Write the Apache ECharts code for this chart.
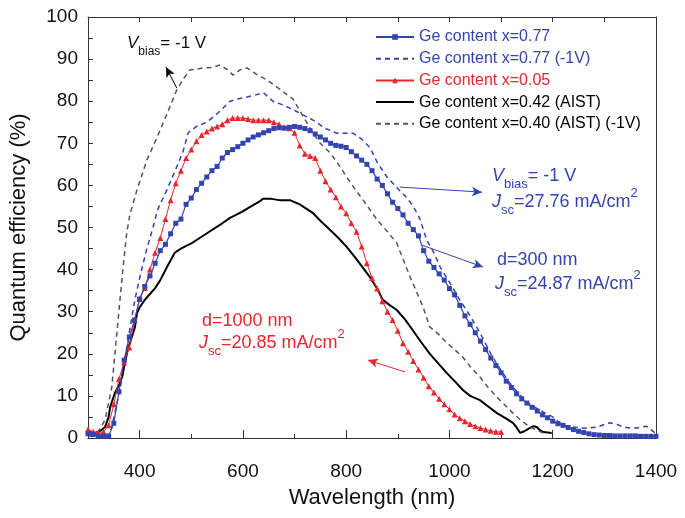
<!DOCTYPE html>
<html><head><meta charset="utf-8">
<script src="https://cdn.jsdelivr.net/npm/echarts@6/dist/echarts.min.js"></script>
<style>html,body{margin:0;padding:0;background:#fff}#c{width:685px;height:518px}</style>
</head><body><div id="c"></div><script>
// Wavelength grid (nm) for the marker series
const wl = [300,310,320,330,340,350,360,370,380,390,400,410,420,430,440,450,460,470,480,490,
500,510,520,530,540,550,560,570,580,590,600,610,620,630,640,650,660,670,680,690,
700,710,720,730,740,750,760,770,780,790,800,810,820,830,840,850,860,870,880,890,
900,910,920,930,940,950,960,970,980,990,1000,1010,1020,1030,1040,1050,1060,1070,1080,1090,
1100,1110,1120,1130,1140,1150,1160,1170,1180,1190,1200,1210,1220,1230,1240,1250,1260,1270,1280,1290,
1300,1310,1320,1330,1340,1350,1360,1370,1380,1390,1400];
// Ge content x=0.77 (squares)
const ge077 = [1.0,0.8,0.5,0.5,0.5,3.5,11,18.5,24,28,
33,36,38.5,41.5,44.5,46,48.5,51,52,55.5,
57,59,60.5,62,63.5,64.5,66.5,67.8,68.5,69.2,
70,70.8,71.5,72,72.5,73,73.5,73.7,73.6,73.8,
74,73.8,73.5,73,72.2,71.5,70.8,70,69.5,69.3,
69,68,67,66,65,63.5,61.5,60,58,56,
54.5,53,51,49.5,48,44.5,42,40.5,39,37.5,
35.5,34,31.5,29,27,25,23,21,19,17.2,
15.5,13.5,12,10.5,9.3,8.3,7.3,6.4,5.5,4.8,
4.0,3.4,3.0,2.5,2.0,1.6,1.3,1.0,0.8,0.7,
0.6,0.6,0.5,0.5,0.5,0.5,0.5,0.4,0.4,0.4,0.4];
// Ge content x=0.05 (triangles), 300..1100 nm
const ge005 = [2,1.5,1.2,1.5,3,8,14,18,21.5,28,
33,35.6,40,44,47.5,52,56.5,60.5,63.5,66.5,
68.5,70.5,72,72.8,73.5,74,74.5,75.5,76,76,
76,75.8,75.5,75.5,75.5,75.5,75,74.5,73.8,73.6,
72.5,69.5,67.5,67,66.5,63.5,61,59,57.2,55,
53.4,51,49,45.5,41.5,38,35.5,32.5,30,28,
25.5,22.5,20.5,18.3,16.3,14.3,12.3,10.8,9.3,8,
6.8,5.6,4.7,4,3.3,2.8,2.4,2,1.7,1.5,
1.4];
// Ge content x=0.77 (-1V), [wavelength, QE]
const ge077bias = [[300,0.5],[320,0.3],[340,0.5],[345,2],[352,6],[366,14],[377,23],[391,33],[400,38],[414,45],[426,50],[434,54],[453,59],[474,65],[484,68],[494,72.5],[510,74],[530,75],[550,77],[575,80],[590,80.5],[608,81],[625,81.5],[640,82],[658,80],[680,79],[705,77.5],[720,76.5],[736,75.5],[760,73.5],[782,72.4],[800,72.4],[813,72.4],[830,71],[846,69],[860,65.5],[879,62],[898,59.5],[918,57],[930,55],[943,52],[956,47],[970,44],[982,40.6],[1000,37],[1020,32.8],[1040,29],[1059,25],[1080,20],[1100,16],[1123,12],[1150,8.5],[1175,6.6],[1200,5],[1220,3],[1240,2.6],[1260,2.3],[1286,2.6],[1300,3.2],[1311,3.6],[1325,3.2],[1336,2.6],[1350,2.4],[1363,2.4],[1382,2.8],[1395,1.5],[1400,1]];
// Ge content x=0.42 (AIST)
const ge042 = [[300,1.5],[314,1.2],[325,1.8],[333,2.6],[340,5],[343,7.4],[352,10.7],[360,12.5],[366,14.5],[377,21],[385,24],[391,26.4],[395,29.7],[400,31],[410,32.8],[420,34.2],[430,35.6],[440,37.5],[453,40.6],[468,44],[480,45],[501,46.3],[520,47.8],[540,49.4],[560,51],[575,52.3],[598,53.7],[614,54.9],[630,56],[639,56.8],[655,56.8],[670,56.5],[691,56.5],[710,55.5],[736,53.4],[750,51.6],[769,49.4],[785,47.5],[801,45.4],[821,42.3],[846,38.2],[860,35.5],[871,32.8],[885,31.5],[898,30.4],[915,28],[929,25.6],[945,22.8],[962,20],[980,17.5],[995,15.4],[1010,13.5],[1026,11.4],[1040,10],[1059,9],[1075,7.5],[1092,5.9],[1110,4.6],[1123,3.6],[1130,2.5],[1137,1.2],[1145,1.6],[1156,2.4],[1163,2.8],[1169,2.6],[1176,1.8],[1182,1.4],[1198,1.2]];
// Ge content x=0.40 (AIST) (-1V)
const ge040bias = [[300,1.2],[320,1.5],[333,4.3],[346,12],[356,25],[362,33],[368,40.6],[375,48.7],[381,53],[395,59],[414,66],[434,71.5],[453,77],[472,82.7],[486,85.5],[497,87.4],[510,87.6],[523,87.9],[540,88],[556,88.6],[570,87.5],[581,86.2],[595,87.5],[608,87.9],[625,86.5],[647,85],[670,83],[697,80.5],[716,76.5],[736,72.4],[750,70],[769,67.7],[785,65],[801,62],[815,59.5],[833,56.5],[860,51.8],[880,49],[898,46.3],[910,42.5],[924,38.2],[937,34.5],[949,31.1],[962,26.4],[980,24.5],[995,22.6],[1010,21],[1026,19.2],[1040,17],[1059,14.5],[1075,12],[1092,9.7],[1110,7.5],[1123,5.9],[1140,4],[1156,2.6],[1170,1.8],[1182,1.2],[1190,1]];

const xLabels = [400,600,800,1000,1200,1400];
const majorXTicks = [400,600,800,1000,1200,1400];
const seriesNames = ['Ge content x=0.77','Ge content x=0.77 (-1V)','Ge content x=0.05','Ge content x=0.42 (AIST)','Ge content x=0.40 (AIST) (-1V)'];
// annotation arrows [tail, head] in data coordinates
const arrowBlack = [[472,83.1],[451,88.1]];
const arrowBlue1 = [[904,59.6],[1063,58.4]];
const arrowBlue2 = [[947,45.8],[1065,40.6]];
const arrowRed = [[914,15.7],[842,18.5]];

const BLUE = '#3344b0', RED = '#e8262c', BLACK = '#000000', GREY = '#555555';
const FONT = '"Liberation Sans", Arial, Helvetica, sans-serif';

function rich(color, fs) {
  return {
    n: {fontSize: fs, fill: color, fontFamily: FONT, lineHeight: 30, verticalAlign: 'middle'},
    i: {fontSize: fs, fill: color, fontFamily: FONT, fontStyle: 'italic', lineHeight: 30, verticalAlign: 'middle'},
    sub: {fontSize: Math.round(fs*0.72), fill: color, fontFamily: FONT, lineHeight: 30, verticalAlign: 'bottom'},
    sup: {fontSize: Math.round(fs*0.72), fill: color, fontFamily: FONT, lineHeight: 30, verticalAlign: 'top'}
  };
}
function note(x, y, text, color, fs) {
  return {type: 'text', x: x, y: y, silent: true,
    style: {text: text, rich: rich(color, fs), fill: color, verticalAlign: 'middle', align: 'left', font: fs + 'px ' + FONT}};
}
function arrow(pts, color) {
  return {silent: true, symbol: ['none', 'arrow'], symbolSize: [7, 10], animation: false,
    label: {show: false}, lineStyle: {color: color, width: 1, type: 'solid'},
    data: [[{coord: pts[0]}, {coord: pts[1]}]]};
}

const chart = echarts.init(document.getElementById('c'));
chart.setOption({
  animation: false,
  backgroundColor: '#fff',
  grid: {left: 88, right: 29, top: 17, bottom: 80},
  legend: {
    orient: 'vertical', left: 370, top: 24, itemWidth: 38, itemHeight: 7, itemGap: 5.7,
    textStyle: {fontSize: 16, fontFamily: FONT},
    data: [
      {name: seriesNames[0], textStyle: {color: BLUE}},
      {name: seriesNames[1], textStyle: {color: BLUE}, itemStyle: {opacity: 0}},
      {name: seriesNames[2], textStyle: {color: RED}},
      {name: seriesNames[3], textStyle: {color: BLACK}, itemStyle: {opacity: 0}},
      {name: seriesNames[4], textStyle: {color: BLACK}, itemStyle: {opacity: 0}}
    ]
  },
  xAxis: [
    {type: 'value', min: 300, max: 1400, interval: 100, position: 'bottom',
      name: 'Wavelength (nm)', nameLocation: 'middle', nameGap: 49,
      nameTextStyle: {fontSize: 22, color: '#111', fontFamily: FONT},
      axisLine: {show: true, onZero: false, lineStyle: {color: '#333', width: 1}},
      axisTick: {inside: true, length: 4, lineStyle: {color: '#333'}},
      axisLabel: {fontSize: 19, color: '#111', fontFamily: FONT, margin: 24,
        formatter: v => (xLabels.indexOf(v) >= 0 ? String(v) : '')},
      splitLine: {show: false}},
    {type: 'value', min: 300, max: 1400, position: 'bottom',
      axisLine: {show: false, onZero: false},
      axisTick: {show: true, inside: true, length: 8, customValues: majorXTicks, lineStyle: {color: '#333'}},
      axisLabel: {show: false}, splitLine: {show: false}},
    {type: 'value', min: 300, max: 1400, interval: 100, position: 'top',
      axisLine: {show: true, onZero: false, lineStyle: {color: '#333', width: 1}},
      axisTick: {inside: true, length: 5, lineStyle: {color: '#333'}},
      axisLabel: {show: false}, splitLine: {show: false}}
  ],
  yAxis: [
    {type: 'value', min: 0, max: 100, interval: 5, position: 'left',
      name: 'Quantum efficiency (%)', nameLocation: 'middle', nameGap: 58,
      nameTextStyle: {fontSize: 22, color: '#111', fontFamily: FONT},
      axisLine: {show: true, onZero: false, lineStyle: {color: '#333', width: 1}},
      axisTick: {inside: true, length: 5, lineStyle: {color: '#333'}},
      axisLabel: {fontSize: 19, color: '#111', fontFamily: FONT, margin: 10,
        formatter: v => (v % 10 === 0 ? String(v) : '')},
      splitLine: {show: false}},
    {type: 'value', min: 0, max: 100, position: 'right',
      axisLine: {show: true, onZero: false, lineStyle: {color: '#333', width: 1}},
      axisTick: {show: false}, axisLabel: {show: false}, splitLine: {show: false}}
  ],
  series: [
    {name: seriesNames[0], type: 'line', data: ge077.map((v, i) => [wl[i], v]),
      symbol: 'rect', symbolSize: 5, showSymbol: true,
      itemStyle: {color: BLUE}, lineStyle: {color: BLUE, width: 1.2},
      markLine: arrow(arrowBlue1, BLUE), z: 5},
    {name: seriesNames[1], type: 'line', data: ge077bias, showSymbol: false, symbol: 'none',
      itemStyle: {color: BLUE}, lineStyle: {color: BLUE, width: 1.5, type: [5, 4]},
      markLine: arrow(arrowBlue2, BLUE)},
    {name: seriesNames[2], type: 'line', data: ge005.map((v, i) => [wl[i], v]),
      symbol: 'triangle', symbolSize: 6, showSymbol: true,
      itemStyle: {color: RED}, lineStyle: {color: RED, width: 1},
      markLine: arrow(arrowRed, RED), z: 4},
    {name: seriesNames[3], type: 'line', data: ge042, showSymbol: false, symbol: 'none',
      itemStyle: {color: BLACK}, lineStyle: {color: BLACK, width: 2}},
    {name: seriesNames[4], type: 'line', data: ge040bias, showSymbol: false, symbol: 'none',
      itemStyle: {color: GREY}, lineStyle: {color: GREY, width: 1.5, type: [5, 4]},
      markLine: arrow(arrowBlack, BLACK)}
  ],
  graphic: [
    note(127, 43, '{i|V}{sub|bias}{n|= -1 V}', '#111', 17),
    note(492, 176, '{i|V}{sub|bias}{n|= -1 V}', BLUE, 18),
    note(492, 202, '{i|J}{sub|sc}{n|=27.76 mA/cm}{sup|2}', BLUE, 18),
    note(497, 260, '{n|d=300 nm}', BLUE, 18),
    note(495, 284, '{i|J}{sub|sc}{n|=24.87 mA/cm}{sup|2}', BLUE, 18),
    note(202, 321, '{n|d=1000 nm}', RED, 18),
    note(199, 343, '{i|J}{sub|sc}{n|=20.85 mA/cm}{sup|2}', RED, 18)
  ]
});
</script></body></html>
